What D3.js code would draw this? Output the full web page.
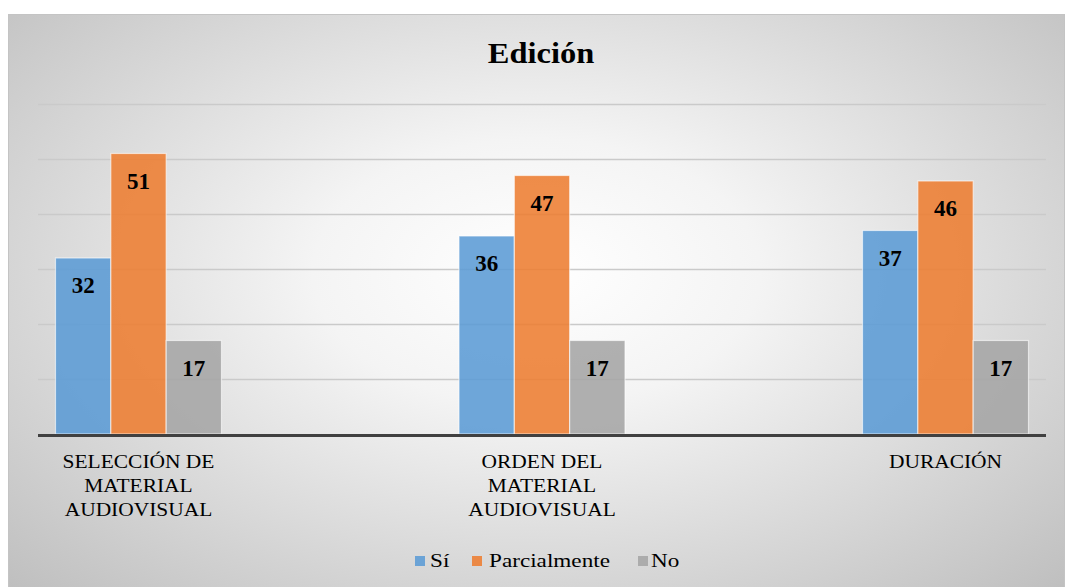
<!DOCTYPE html>
<html>
<head>
<meta charset="utf-8">
<script src="https://cdn.jsdelivr.net/npm/d3@7"></script>
</head>
<body style="margin:0;padding:0">
<div id="chart" style="position:relative;width:1065px;height:587px"></div>
<script>
// data
var categories = ["SELECCIÓN DE MATERIAL AUDIOVISUAL", "ORDEN DEL MATERIAL AUDIOVISUAL", "DURACIÓN"];
var categoryLines = [["SELECCIÓN DE", "MATERIAL", "AUDIOVISUAL"], ["ORDEN DEL", "MATERIAL", "AUDIOVISUAL"], ["DURACIÓN"]];
var seriesNames = ["Sí", "Parcialmente", "No"];
var siValues = [32, 36, 37];
var parcialValues = [51, 47, 46];
var noValues = [17, 17, 17];
var yTicks = [0, 10, 20, 30, 40, 50, 60];
var colors = ["#5b9bd5", "#ed7d31", "#a5a5a5"];

var FONT = "'Times New Roman'";

var W = 1065, H = 587;

// chart background (radial gradient box)
d3.select("#chart").append("div")
  .style("position", "absolute")
  .style("left", "8px").style("top", "14px")
  .style("width", (W - 10) + "px").style("height", (H - 15) + "px")
  .style("border", "1px solid #c4c4c4")
  .style("background", "radial-gradient(ellipse at 50% 45%, #ffffff 0%, #f4f4f4 30%, #bfbfbf 100%)");

var svg = d3.select("#chart").append("svg")
  .attr("width", W).attr("height", H)
  .style("position", "absolute").style("left", "0px").style("top", "0px");

var plotLeft = 38, plotRight = 1046;

var y = d3.scaleLinear().domain([0, 60]).range([434, 104]);
var x = d3.scalePoint().domain(categories).range([138.5, 945.5]);
var xs = d3.scaleBand().domain(seriesNames).range([-83, 83]).padding(0);

// gridlines
svg.append("g").selectAll("line")
  .data(yTicks.filter(function(d){ return d > 0; }))
  .enter().append("line")
  .attr("x1", plotLeft).attr("x2", plotRight)
  .attr("y1", function(d){ return Math.round(y(d)) + 0.5; })
  .attr("y2", function(d){ return Math.round(y(d)) + 0.5; })
  .style("stroke", "#cacaca").style("stroke-width", 1.3);

var allValues = [siValues, parcialValues, noValues];
var rows = [];
categories.forEach(function(c, i){
  seriesNames.forEach(function(s, j){
    rows.push({cat: c, series: s, value: allValues[j][i], color: colors[j]});
  });
});

var bars = svg.append("g");
bars.selectAll("rect").data(rows).enter().append("rect")
  .attr("x", function(d){ return x(d.cat) + xs(d.series); })
  .attr("y", function(d){ return y(d.value); })
  .attr("width", xs.bandwidth())
  .attr("height", function(d){ return y(0) - y(d.value); })
  .style("fill", function(d){ return d.color; })
  .style("fill-opacity", 0.88)
  .style("stroke", "rgba(255,255,255,0.6)")
  .style("stroke-width", 1.2);

bars.selectAll("text").data(rows).enter().append("text")
  .attr("x", function(d){ return x(d.cat) + xs(d.series) + xs.bandwidth() / 2; })
  .attr("y", function(d){ return y(d.value) + 35; })
  .attr("text-anchor", "middle")
  .style("font-family", FONT)
  .attr("font-size", "23px").attr("font-weight", "bold")
  .attr("fill", "#000")
  .text(function(d){ return d.value; });

// baseline
svg.append("line")
  .attr("x1", plotLeft).attr("x2", plotRight)
  .attr("y1", y(0) + 1.5).attr("y2", y(0) + 1.5)
  .style("stroke", "#404040").style("stroke-width", 3);

// category labels (text in the picture is a bit wider than the font)
categories.forEach(function(c, i){
  var t = svg.append("text")
    .attr("transform", "translate(" + x(c) + ",468) scale(1.1,1)")
    .attr("text-anchor", "middle")
    .style("font-family", FONT)
    .attr("font-size", "19.5px").attr("fill", "#000");
  categoryLines[i].forEach(function(line, k){
    t.append("tspan").attr("x", 0).attr("y", k * 24).text(line);
  });
});

// title
svg.append("text")
  .attr("transform", "translate(541,63) scale(1.1,1)")
  .attr("text-anchor", "middle")
  .style("font-family", FONT)
  .attr("font-size", "29.5px").attr("font-weight", "bold")
  .text("Edición");

// legend
var legendX = [415, 472, 638];
var legendTextX = [430, 489, 651];
var leg = svg.append("g");
seriesNames.forEach(function(s, j){
  leg.append("rect")
    .attr("x", legendX[j]).attr("y", 556)
    .attr("width", 10).attr("height", 10)
    .style("fill", colors[j]).style("fill-opacity", 0.88);
  leg.append("text")
    .attr("transform", "translate(" + legendTextX[j] + ",567) scale(1.22,1)")
    .style("font-family", FONT)
    .attr("font-size", "19px").attr("fill", "#000")
    .text(s);
});
</script>
</body>
</html>
